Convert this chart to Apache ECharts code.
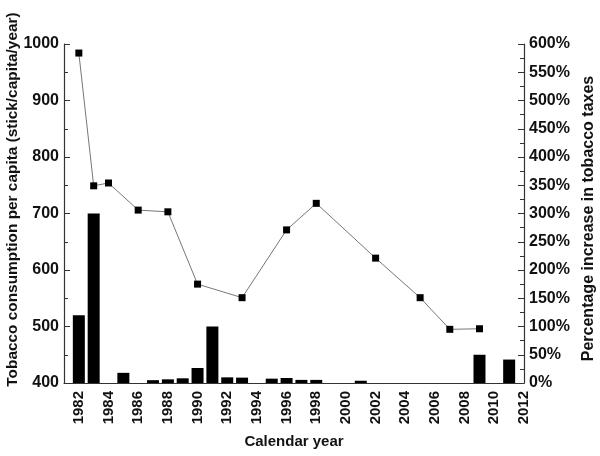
<!DOCTYPE html>
<html><head><meta charset="utf-8">
<script src="https://cdn.jsdelivr.net/npm/echarts@6/dist/echarts.min.js"></script>
<style>html,body{margin:0;padding:0;background:#fff}#c{width:600px;height:456px}</style>
</head><body><div id="c"></div>
<script>
var consumptionYears = [1982, 1983, 1984, 1986, 1988, 1990, 1993, 1996, 1998, 2002, 2005, 2007, 2009];
var consumptionValues = [984, 749, 754, 706, 703, 575, 551, 671, 718, 621, 551, 495, 496];
var taxYears = [1982, 1983, 1985, 1987, 1988, 1989, 1990, 1991, 1992, 1993, 1995, 1996, 1997, 1998, 2001, 2009, 2011];
var taxValues = [120, 300, 18, 5, 6.5, 8.3, 26.6, 100, 10, 9.5, 7.7, 8.9, 5.5, 5.5, 4, 50, 41.5];
var leftTicks = [400, 500, 600, 700, 800, 900, 1000];
var rightTicks = [0, 50, 100, 150, 200, 250, 300, 350, 400, 450, 500, 550, 600];

var chart = echarts.init(document.getElementById('c'), null, {renderer: 'canvas'});
var font = 'Liberation Sans, Arial, sans-serif';
var lineData = consumptionYears.map(function (y, i) { return [y, consumptionValues[i]]; });
var barData = taxYears.map(function (y, i) { return [y, taxValues[i]]; });

chart.setOption({
  animation: false,
  backgroundColor: '#fff',
  grid: {left: 64, right: 76, top: 44, bottom: 73, containLabel: false, outerBoundsMode: 'none'},
  xAxis: {
    type: 'value', min: 1981, max: 2012, interval: 1,
    name: 'Calendar year', nameLocation: 'middle', nameGap: 51,
    nameTextStyle: {fontFamily: font, fontWeight: 'bold', fontSize: 15, color: '#111'},
    axisLine: {show: true, lineStyle: {color: '#333', width: 1.2}},
    axisTick: {show: false},
    splitLine: {show: false},
    axisLabel: {
      rotate: 90, margin: 8, fontFamily: font, fontWeight: 'bold', fontSize: 15, color: '#111',
      formatter: function (v) { return (v % 2 === 0) ? String(v) : ''; }
    }
  },
  yAxis: [{
    type: 'value', min: leftTicks[0], max: leftTicks[leftTicks.length - 1], interval: 100,
    position: 'left',
    name: 'Tobacco consumption per capita (stick/capita/year)', nameLocation: 'middle', nameGap: 44,
    nameMoveOverlap: false,
    nameTextStyle: {fontFamily: font, fontWeight: 'bold', fontSize: 15.4, color: '#111',
      padding: [0, 0, 0, 28]},
    axisLine: {show: true, lineStyle: {color: '#333', width: 1.2}},
    axisTick: {show: true, inside: true, length: 6, lineStyle: {color: '#333'}},
    minorTick: {show: true, splitNumber: 2, length: 4, lineStyle: {color: '#333'}},
    splitLine: {show: false},
    axisLabel: {margin: 5, fontFamily: font, fontWeight: 'bold', fontSize: 16, color: '#111',
      formatter: function (v) { return String(v); }}
  }, {
    type: 'value', min: rightTicks[0], max: rightTicks[rightTicks.length - 1], interval: 50,
    position: 'right',
    name: 'Percentage increase in tobacco taxes', nameLocation: 'middle', nameGap: 57,
    nameTextStyle: {fontFamily: font, fontWeight: 'bold', fontSize: 16, color: '#111',
      padding: [0, 10, 0, 0]},
    axisLine: {show: true, lineStyle: {color: '#333', width: 1.2}},
    axisTick: {show: true, inside: true, length: 6, lineStyle: {color: '#333'}},
    minorTick: {show: true, splitNumber: 2, length: 4, lineStyle: {color: '#333'}},
    splitLine: {show: false},
    axisLabel: {margin: 5, fontFamily: font, fontWeight: 'bold', fontSize: 16, color: '#111',
      formatter: '{value}%'}
  }],
  series: [{
    type: 'bar', yAxisIndex: 1, data: barData, barWidth: 12,
    itemStyle: {color: '#000'}, z: 2
  }, {
    type: 'line', yAxisIndex: 0, data: lineData,
    symbol: 'rect', symbolSize: 7,
    lineStyle: {color: '#777', width: 1},
    itemStyle: {color: '#000'}, z: 3
  }]
});
</script></body></html>
